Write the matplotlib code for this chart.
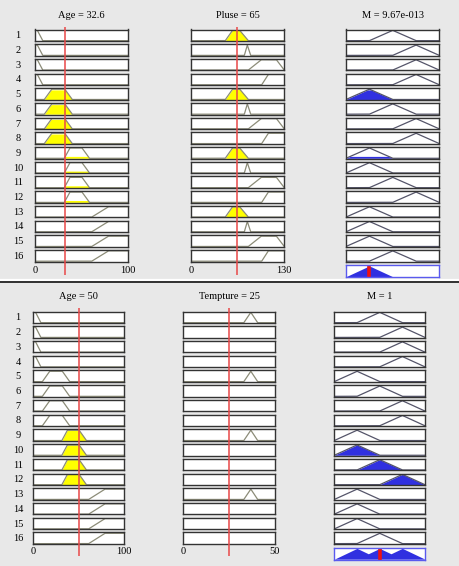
import numpy as np
import matplotlib
matplotlib.use('Agg')
import matplotlib.pyplot as plt
from matplotlib.lines import Line2D
from matplotlib.transforms import blended_transform_factory as blend

plt.rcParams['font.family'] = ['Liberation Serif', 'DejaVu Serif']

# ---------------- data ----------------
rule_numbers = list(range(1, 17))

age_range = [0, 100]
pulse_range = [0, 130]
temp_range = [0, 50]
out_range = [0, 1]

# membership functions as trapezoid break points [a, b, c, d]
age_mfs = {
    'young': [-1, 0, 2.5, 8.3],
    'middle': [10, 18, 32, 40],
    'midold': [31.5, 37.5, 50.5, 58.5],
    'old': [61, 79, 100, 101],
}
pulse_mfs = {
    'p1': [48, 58, 68, 80],
    'p2': [74.5, 78.6, 78.6, 83.3],
    'p3': [80, 98, 119, 130],
    'p4': [98.6, 107.8, 130, 131],
}
temp_mfs = {
    't1': [33, 36.8, 36.8, 40.5],
}
out_mfs = {
    'low': [0, 0.25, 0.25, 0.5],
    'med': [0.25, 0.5, 0.5, 0.75],
    'high': [0.5, 0.75, 0.75, 1.0],
}

age_rules = ['young'] * 4 + ['middle'] * 4 + ['midold'] * 4 + ['old'] * 4
pulse_rules = ['p1', 'p2', 'p3', 'p4'] * 4
temp_rules = ['t1', None, None, None] * 4
out_rules = ['med', 'high', 'high', 'high', 'low', 'med', 'high', 'high',
             'low', 'low', 'med', 'high', 'low', 'low', 'low', 'med']

p1_age_value = 32.6
p1_pulse_value = 65
p1_titles = ['Age = 32.6', 'Pluse = 65', 'M = 9.67e-013']
p1_ticks = [['0', '100'], ['0', '130']]

p2_age_value = 50
p2_temp_value = 25
p2_titles = ['Age = 50', 'Tempture = 25', 'M = 1']
p2_ticks = [['0', '100'], ['0', '50']]

# ---------------- style ----------------
W, H = 460, 566
BG = '#e8e8e8'
FRAME = '#333333'
IN_LINE = '#8c8c78'
YELLOW = '#ffff00'
OUT_LINE = '#55556a'
BLUE = '#3030e0'
RED = '#e84848'
FS = 7.5

fig = plt.figure(figsize=(W / 100, H / 100), dpi=100, facecolor=BG)


def px_axes(x, y, w, h):
    return fig.add_axes([x / W, 1 - (y + h) / H, w / W, h / H])


def mf_eval(x, p):
    return np.interp(x, p, [0, 1, 1, 0], left=0, right=0)


def style_box(ax, rng, edge=FRAME):
    ax.set_xlim(rng)
    ax.set_ylim(-0.03, 1.08)
    ax.set_facecolor('white')
    ax.set_xticks([])
    ax.set_yticks([])
    for s in ax.spines.values():
        s.set_color(edge)
        s.set_linewidth(1.0)


def panel(row_top, pitch, rh, cols, inputs, titles, ticks, title_y, line_y, tick_y, agg_y):
    # cols: list of (x, w, range)
    n = len(rule_numbers)
    firing = np.ones(n)
    out_x = np.linspace(out_range[0], out_range[1], 801)
    agg = np.zeros_like(out_x)
    # input columns
    for ci, (mfs, rules, value) in enumerate(inputs):
        x0, w, rng = cols[ci]
        xs = np.linspace(rng[0], rng[1], 801)
        for i in range(n):
            ax = px_axes(x0, row_top + i * pitch, w, rh)
            style_box(ax, rng)
            name = rules[i]
            if name is None:
                continue
            p = mfs[name]
            deg = float(mf_eval(value, p))
            firing[i] = min(firing[i], deg)
            y = mf_eval(xs, p)
            if deg > 0:
                ax.fill_between(xs, np.minimum(y, deg), color=YELLOW, lw=0)
            ax.plot(xs, y, color=IN_LINE, lw=0.9)
            if ci == 0:
                ax.text(18 / W, 0.45, str(rule_numbers[i]), transform=blend(fig.transFigure, ax.transAxes),
                        ha='center', va='center', fontsize=FS)
        # red line overlay
        ov = px_axes(x0, line_y[0], w, line_y[1] - line_y[0])
        ov.set_xlim(rng)
        ov.set_ylim(0, 1)
        ov.axis('off')
        ov.set_zorder(5)
        ov.axvline(value, color=RED, lw=1.1)
        tr = blend(ov.transData, fig.transFigure)
        ov.text(rng[0], 1 - tick_y / H, ticks[ci][0], transform=tr, ha='center', va='center', fontsize=FS)
        ov.text(rng[1], 1 - tick_y / H, ticks[ci][1], transform=tr, ha='center', va='center', fontsize=FS)
        ov.text((rng[0] + rng[1]) / 2, 1 - title_y / H, titles[ci], transform=tr,
                ha='center', va='center', fontsize=FS)
    # output column
    x0, w, rng = cols[-1]
    for i in range(n):
        ax = px_axes(x0, row_top + i * pitch, w, rh)
        style_box(ax, rng)
        y = mf_eval(out_x, out_mfs[out_rules[i]])
        clipped = np.minimum(y, firing[i])
        if firing[i] > 0:
            ax.fill_between(out_x, clipped, color=BLUE, lw=0)
        agg = np.maximum(agg, clipped)
        ax.plot(out_x, y, color=OUT_LINE, lw=0.9)
    ax = px_axes(x0, agg_y, w, rh + 0.5)
    style_box(ax, rng, edge='#5a5aee')
    ax.fill_between(out_x, agg, color=BLUE, lw=0)
    centroid = np.sum(out_x * agg) / np.sum(agg)
    ax.axvline(centroid, ymin=0.05, ymax=0.92, color='#ee1111', lw=2.6)
    tr = blend(ax.transData, fig.transFigure)
    ax.text((rng[0] + rng[1]) / 2, 1 - title_y / H, titles[-1], transform=tr,
            ha='center', va='center', fontsize=FS)


panel(29.5, 14.7, 11.5,
      [(35, 93, age_range), (190.7, 93.6, pulse_range), (346, 93.3, out_range)],
      [(age_mfs, age_rules, p1_age_value), (pulse_mfs, pulse_rules, p1_pulse_value)],
      p1_titles, p1_ticks, 15, (27, 275), 270, 265)

panel(311.5, 14.73, 11.5,
      [(33.3, 90.7, age_range), (183.3, 91.7, temp_range), (334.3, 90.7, out_range)],
      [(age_mfs, age_rules, p2_age_value), (temp_mfs, temp_rules, p2_temp_value)],
      p2_titles, p2_ticks, 296, (308, 556), 551.5, 547.5)

# divider between the two viewers
fig.add_artist(Line2D([0, 1], [1 - 280.3 / H] * 2, transform=fig.transFigure, color='white', lw=1.6))
fig.add_artist(Line2D([0, 1], [1 - 282.3 / H] * 2, transform=fig.transFigure, color='#222222', lw=1.3))

fig.savefig('out.png', dpi=100, facecolor=BG)
